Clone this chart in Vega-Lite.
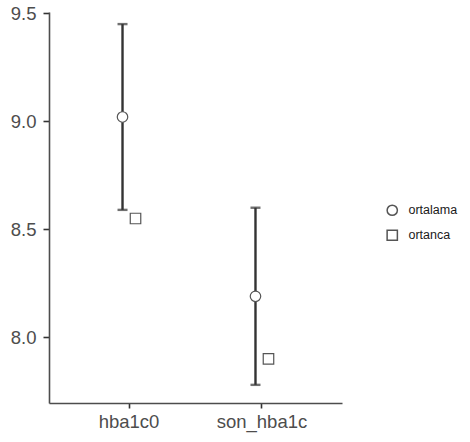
{
  "$schema": "https://vega.github.io/schema/vega-lite/v6.json",
  "autosize": "none",
  "width": 293,
  "height": 391,
  "padding": {"left": 49, "top": 12, "right": 128, "bottom": 39},
  "background": "white",
  "config": {
    "view": {"stroke": null},
    "font": "Liberation Sans",
    "axis": {
      "grid": false,
      "domainColor": "#4d4d4d",
      "domainWidth": 1.6,
      "tickColor": "#333333",
      "tickWidth": 1.6,
      "labelColor": "#4d4d4d",
      "labelFont": "Liberation Sans",
      "labelFontSize": 18.5,
      "title": null
    }
  },
  "data": {
    "values": [
      {"variable": "hba1c0", "stat": "ortalama", "value": 9.02, "lo": 8.59, "hi": 9.45},
      {"variable": "hba1c0", "stat": "ortanca", "value": 8.55},
      {"variable": "son_hba1c", "stat": "ortalama", "value": 8.19, "lo": 7.78, "hi": 8.6},
      {"variable": "son_hba1c", "stat": "ortanca", "value": 7.9}
    ]
  },
  "encoding": {
    "x": {
      "field": "variable",
      "type": "nominal",
      "scale": {"type": "band", "paddingInner": 0.8045, "paddingOuter": 0.504},
      "axis": {"labelAngle": 0, "tickSize": 5, "labelPadding": 4}
    },
    "xOffset": {"field": "stat", "type": "nominal", "scale": {"domain": ["ortalama", "ortanca"]}}
  },
  "layer": [
    {
      "transform": [{"filter": "datum.lo != null"}],
      "mark": {"type": "rule", "color": "#333333", "strokeWidth": 2.4},
      "encoding": {
        "y": {
          "field": "lo",
          "type": "quantitative",
          "scale": {"domain": [7.696, 9.506], "nice": false, "zero": false},
          "axis": {"values": [8.0, 8.5, 9.0, 9.5], "format": ".1f", "tickSize": 6, "labelPadding": 7}
        },
        "y2": {"field": "hi"}
      }
    },
    {
      "transform": [{"filter": "datum.lo != null"}],
      "mark": {"type": "tick", "color": "#333333", "thickness": 2.4, "size": 10},
      "encoding": {"y": {"field": "lo", "type": "quantitative"}}
    },
    {
      "transform": [{"filter": "datum.hi != null"}],
      "mark": {"type": "tick", "color": "#333333", "thickness": 2.4, "size": 10},
      "encoding": {"y": {"field": "hi", "type": "quantitative"}}
    },
    {
      "mark": {"type": "point", "filled": false, "fill": "white", "stroke": "#555555", "strokeWidth": 1.2, "opacity": 1, "size": 110},
      "encoding": {
        "y": {"field": "value", "type": "quantitative"},
        "shape": {
          "field": "stat",
          "type": "nominal",
          "scale": {"domain": ["ortalama", "ortanca"], "range": ["circle", "square"]},
          "legend": {
            "title": null,
            "orient": "none",
            "legendX": 337,
            "legendY": 192,
            "labelFont": "Liberation Sans",
            "labelFontSize": 12.5,
            "labelColor": "#1a1a1a",
            "labelOffset": 10,
            "symbolSize": 105,
            "rowPadding": 8,
            "encode": {
              "symbols": {
                "update": {
                  "stroke": {"value": "#555555"},
                  "fill": {"value": "white"},
                  "strokeWidth": {"value": 1.2},
                  "opacity": {"value": 1}
                }
              }
            }
          }
        }
      }
    }
  ]
}
